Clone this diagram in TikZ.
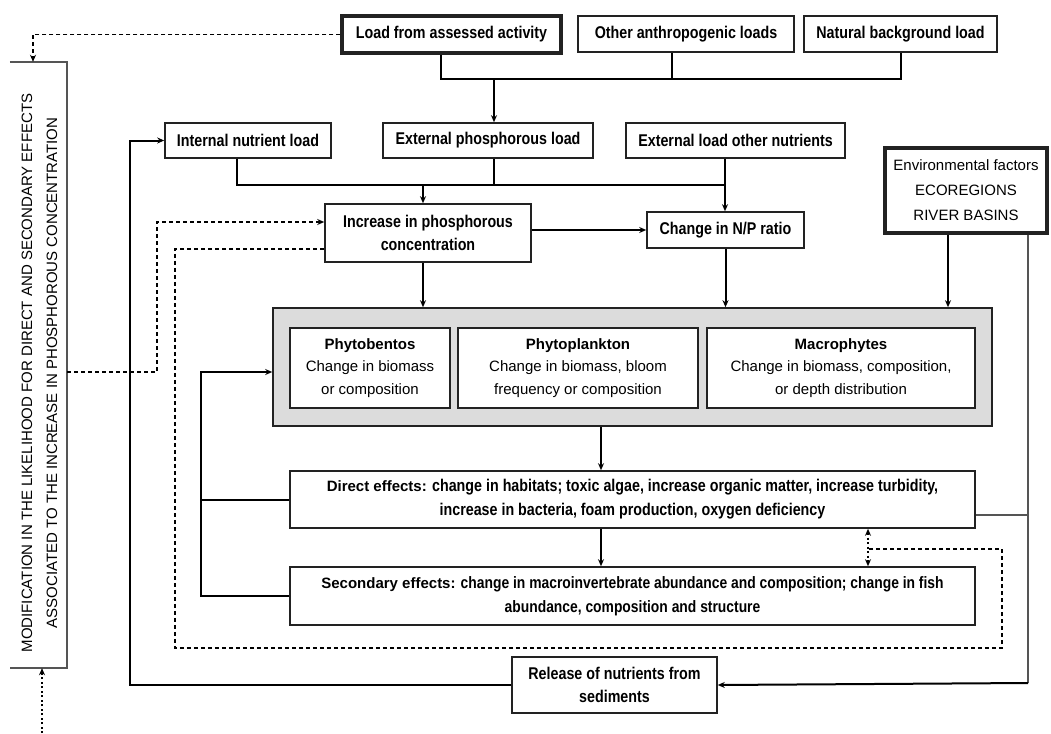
\documentclass[tikz,border=0pt]{standalone}
\usepackage{fontspec}
\setmainfont{Liberation Sans}
\newfontfamily\condfont[FakeStretch=0.84]{Liberation Sans}
\usetikzlibrary{arrows.meta,calc}
\definecolor{bord}{HTML}{222222}
\definecolor{greyfill}{HTML}{DCDCDC}
\definecolor{lgrey}{HTML}{555555}
\tikzset{
  box/.style={draw=bord, line width=1.6pt, fill=white, inner sep=0pt, align=center,
    font=\condfont\bfseries\fontsize{17}{23}\selectfont},
  thickbox/.style={box, line width=3.2pt},
  plainbox/.style={draw=bord, line width=1.5pt, fill=white, inner sep=0pt, align=center,
    font=\fontsize{15}{22.5}\selectfont},
  conn/.style={line width=2pt, draw=black},
  dashconn/.style={line width=1.6pt, dash pattern=on 4pt off 3pt},
  dotconn/.style={line width=2pt, dash pattern=on 2pt off 2.5pt},
}
\begin{document}
\begin{tikzpicture}[x=1pt,y=-1pt, >={Stealth[length=7pt,width=6pt]}]
\useasboundingbox (0,0) rectangle (1051,733);

% top row
\node[thickbox, minimum width=219pt, minimum height=37pt] (load) at (451.5,34.5) {Load from assessed activity};
\node[box, minimum width=216pt, minimum height=36pt] (other) at (686,34) {Other anthropogenic loads};
\node[box, minimum width=193pt, minimum height=36pt] (natural) at (900.5,34) {Natural background load};

% second row
\node[box, minimum width=166pt, minimum height=35pt] (internal) at (248,140.5) {Internal nutrient load};
\node[box, minimum width=210pt, minimum height=35pt] (extp) at (488,140.5) {External phosphorous load};
\node[box, minimum width=219pt, minimum height=35pt] (exto) at (735.5,140.5) {External load other nutrients};
\node[thickbox, minimum width=162pt, minimum height=85pt, font=\fontsize{15}{25}\selectfont] (env) at (966,190.5)
  {Environmental factors\\ECOREGIONS\\RIVER BASINS};

% third row
\node[box, minimum width=206pt, minimum height=58pt] (incr) at (428,233) {Increase in phosphorous\\concentration};
\node[box, minimum width=157pt, minimum height=36pt] (np) at (725.5,230) {Change in N/P ratio};

% grey box
\node[draw=bord, line width=1.6pt, fill=greyfill, minimum width=719pt, minimum height=118pt, inner sep=0pt] (grey) at (632.5,367) {};
\node[plainbox, minimum width=160pt, minimum height=80pt] (phb) at (370,368)
  {\textbf{Phytobentos}\\Change in biomass\\or composition};
\node[plainbox, minimum width=240pt, minimum height=80pt] (php) at (578,368)
  {\textbf{Phytoplankton}\\Change in biomass, bloom\\frequency or composition};
\node[plainbox, minimum width=268pt, minimum height=80pt] (mac) at (841,368)
  {\textbf{Macrophytes}\\Change in biomass, composition,\\or depth distribution};

% effects
\node[box, minimum width=685pt, minimum height=57pt, font=\condfont\bfseries\fontsize{17}{24}\selectfont] (direct) at (632.5,499.5)
  {{\normalfont\bfseries\fontsize{15}{24}\selectfont Direct effects:} change in habitats; toxic algae, increase organic matter, increase turbidity,\\increase in bacteria, foam production, oxygen deficiency};
\node[box, minimum width=685pt, minimum height=58pt, font=\condfont\bfseries\fontsize{16.5}{24}\selectfont] (second) at (632.5,596)
  {{\normalfont\bfseries\fontsize{15}{24}\selectfont Secondary effects:} change in macroinvertebrate abundance and composition; change in fish\\abundance, composition and structure};
\node[box, minimum width=205pt, minimum height=56pt] (release) at (614.5,685) {Release of nutrients from\\sediments};

% left vertical box
\node[minimum width=57pt, minimum height=606pt, inner sep=0pt] (mod) at (38.5,365) {};
\draw[draw=lgrey, line width=1.8pt] (mod.north west) -- (mod.north east) -- (mod.south east) -- (mod.south west);
\node[rotate=90, align=center, inner sep=0pt, font=\fontsize{15}{25}\selectfont] (modtext) at (39.5,373)
  {MODIFICATION IN THE LIKELIHOOD FOR DIRECT AND SECONDARY EFFECTS\\ASSOCIATED TO THE INCREASE IN PHOSPHOROUS CONCENTRATION};

% coordinates
\coordinate (b1) at (494,79);
\coordinate (b2) at (423,185);
\coordinate (fx) at (201,372);
\coordinate (lx) at (130,0);
\coordinate (rx) at (1028,683);
\coordinate (dl) at (175,648);
\coordinate (dr) at (1002,549);
\coordinate (dj) at (868,549);
\coordinate (dx) at (157,222);
\coordinate (dots) at (42,733);

% top bus
\draw[conn] ([xshift=-10.5pt]load.south) |- (natural.south |- b1) -- (natural.south);
\draw[conn] ([xshift=-14pt]other.south) -- ([xshift=-14pt]other.south |- b1);
\draw[conn,->] (b1) -- (b1 |- extp.north);

% second bus
\draw[conn] ([xshift=-11pt]internal.south) |- ([xshift=-10.5pt]exto.south |- b2);
\draw[conn] ([xshift=6pt]extp.south) -- ([xshift=6pt]extp.south |- b2);
\draw[conn,->] ([xshift=-10.5pt]exto.south) -- ([xshift=-10.5pt]exto.south |- np.north);
\draw[conn,->] (b2) -- (b2 |- incr.north);

% incr / np / env to grey
\draw[conn,->] (incr.east |- np.west) -- (np.west);
\draw[conn,->] ([xshift=-5pt]incr.south) -- ([xshift=-5pt]incr.south |- grey.north);
\draw[conn,->] (np.south) -- (np.south |- grey.north);
\draw[conn,->] ([xshift=-18pt]env.south) -- ([xshift=-18pt]env.south |- grey.north);

% grey -> direct -> secondary
\draw[conn,->] ([xshift=-31.5pt]grey.south) -- ([xshift=-31.5pt]grey.south |- direct.north);
\draw[conn,->] ([xshift=-31.5pt]direct.south) -- ([xshift=-31.5pt]direct.south |- second.north);

% feedback to grey box
\draw[conn,->] (second.west) -| (fx) -- ([yshift=-5pt]grey.west);
\draw[conn] (direct.west) -- (direct.west -| fx);

% release loops
\draw[conn,->] (release.west) -| (internal.west -| lx) -- (internal.west);
\draw[line width=2pt, draw=lgrey] ([xshift=62pt]env.south) -- (rx);
\draw[conn,->] (rx) -- (release.east);
\draw[line width=2pt, draw=lgrey] ([yshift=-15.5pt]direct.east) -- ([yshift=-15.5pt]direct.east -| rx);

% dashed loop
\draw[dashconn] ([yshift=-16pt]incr.west) -| (dl) -| (dr) -- (dj);
\draw[dotconn,<->] (dj |- direct.south) -- (dj |- second.north);

% dashed from left box
\draw[dashconn,->] ([yshift=-7pt]mod.east) -| (dx) -- ([yshift=11pt]incr.west);
\draw[dashconn,->] (load.west) -| ([xshift=-5.5pt]mod.north);
\draw[dotconn,->] (dots) -- ([xshift=3.5pt]mod.south);
\end{tikzpicture}
\end{document}
